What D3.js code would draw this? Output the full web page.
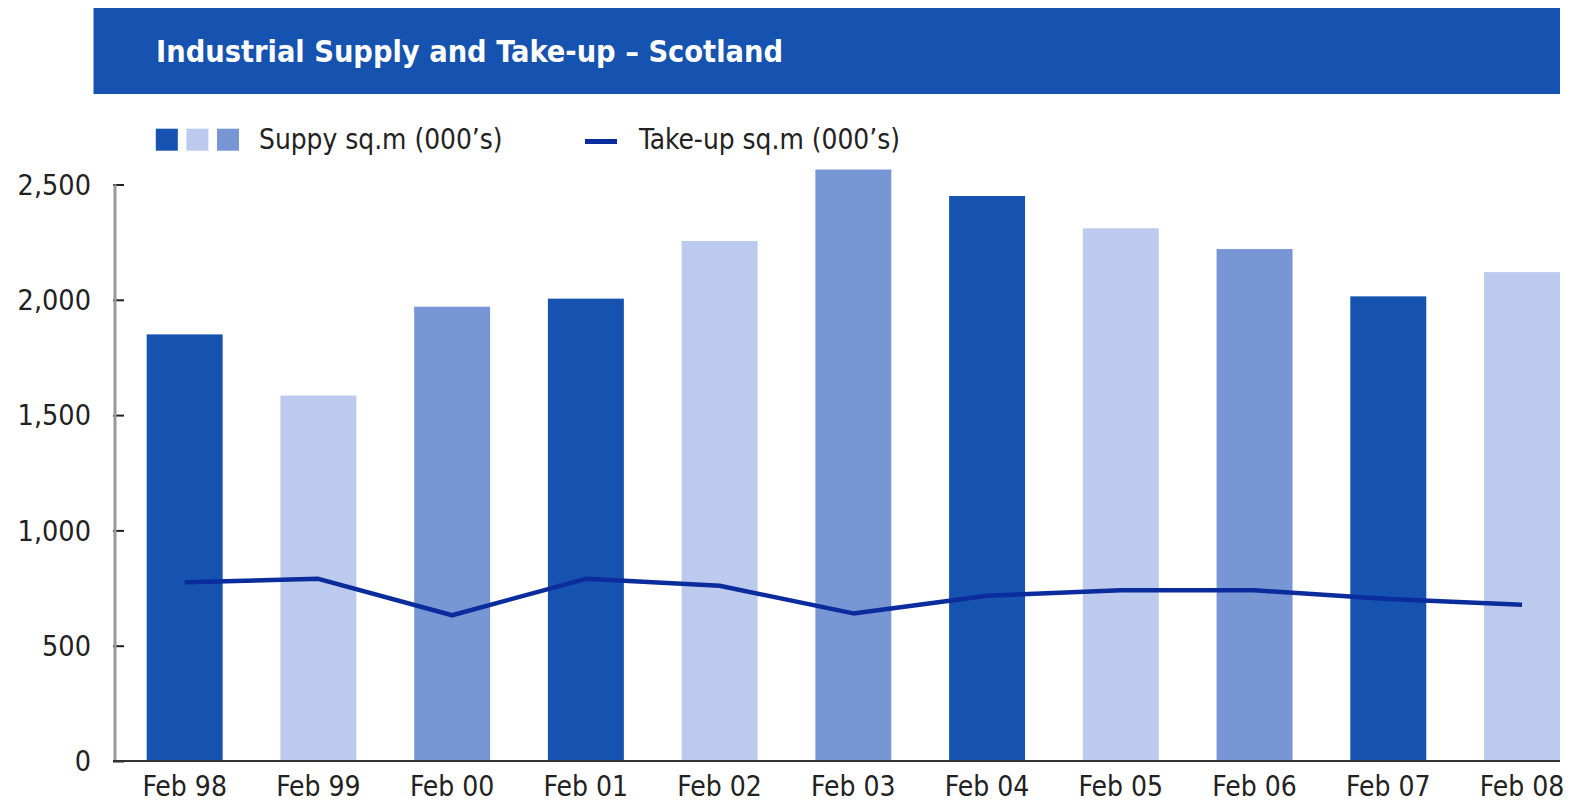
<!doctype html>
<meta charset="utf-8">
<title>Industrial Supply and Take-up - Scotland</title>
<script src="https://cdn.jsdelivr.net/npm/d3@7"></script>
<style>
  body { margin: 0; background: #fff; }
  text { font-family: "DejaVu Sans Condensed", "DejaVu Sans", sans-serif; fill: #222; }
</style>
<body>
<svg id="chart" width="1576" height="803"></svg>
<script>

// data
var periods = ["Feb 98", "Feb 99", "Feb 00", "Feb 01", "Feb 02", "Feb 03",
               "Feb 04", "Feb 05", "Feb 06", "Feb 07", "Feb 08"];
var supply = [1850, 1585, 1970, 2005, 2255, 2565, 2450, 2310, 2220, 2015, 2120];
var takeUp = [775, 790, 632, 790, 760, 640, 717, 740, 740, 702, 678];
var yTicks = [0, 500, 1000, 1500, 2000, 2500];
var barColours = ["#1652b0", "#bccaed", "#7896d4"];

var svg = d3.select("#chart");

// title banner
svg.append("rect")
  .attr("x", 93.5).attr("y", 8).attr("width", 1466.5).attr("height", 86)
  .attr("fill", "#1652b0");
svg.append("text")
  .attr("x", 156).attr("y", 62)
  .style("font-size", "30.4px").style("font-weight", "bold").style("fill", "#fff")
  .text("Industrial Supply and Take-up \u2013 Scotland");

// scales
var x = d3.scaleBand()
  .domain(periods)
  .range([117.8, 1588.9])
  .paddingInner(0.432)
  .paddingOuter(0.216);

var y = d3.scaleLinear()
  .domain([0, 2500])
  .range([761, 184.5]);

// bars
svg.append("g").selectAll("rect")
  .data(supply)
  .join("rect")
    .attr("x", function(d, i) { return x(periods[i]); })
    .attr("y", function(d) { return y(d); })
    .attr("width", x.bandwidth())
    .attr("height", function(d) { return y(0) - y(d); })
    .attr("fill", function(d, i) { return barColours[i % 3]; });

// take-up line
var line = d3.line()
  .x(function(d, i) { return x(periods[i]) + x.bandwidth() / 2; })
  .y(function(d) { return y(d); });

svg.append("path")
  .datum(takeUp)
  .attr("d", line)
  .attr("fill", "none")
  .attr("stroke", "#0a2c9c")
  .attr("stroke-width", 4.5)
  .attr("stroke-linejoin", "round");

// y axis
var yAxis = d3.axisRight(y)
  .tickValues(yTicks)
  .tickSize(11)
  .tickFormat("");

var yg = svg.append("g").attr("transform", "translate(113,0)").call(yAxis);
yg.select(".domain").remove();
yg.selectAll(".tick line").attr("stroke", "#222").attr("stroke-width", 2);

svg.append("line")
  .attr("x1", 115).attr("x2", 115)
  .attr("y1", y(2500)).attr("y2", y(0))
  .attr("stroke", "#999").attr("stroke-width", 3);

svg.append("g").selectAll("text")
  .data(yTicks)
  .join("text")
    .attr("x", 91)
    .attr("y", function(d) { return y(d); })
    .attr("dy", "0.36em")
    .attr("text-anchor", "end")
    .style("font-size", "28.5px")
    .text(d3.format(","));

// x axis
svg.append("line")
  .attr("x1", 113).attr("x2", 1560)
  .attr("y1", y(0)).attr("y2", y(0))
  .attr("stroke", "#333").attr("stroke-width", 2);

svg.append("g").selectAll("text")
  .data(periods)
  .join("text")
    .attr("x", function(d) { return x(d) + x.bandwidth() / 2; })
    .attr("y", 796)
    .attr("text-anchor", "middle")
    .style("font-size", "28px")
    .text(function(d) { return d; });

// legend
var legend = svg.append("g");
legend.selectAll("rect")
  .data(barColours)
  .join("rect")
    .attr("x", function(d, i) { return 155.8 + i * 30.6; })
    .attr("y", 128.7)
    .attr("width", 22).attr("height", 22)
    .attr("fill", function(d) { return d; });
legend.append("text")
  .attr("x", 259).attr("y", 149)
  .style("font-size", "27.8px")
  .text("Suppy sq.m (000\u2019s)");
legend.append("line")
  .attr("x1", 585).attr("x2", 617)
  .attr("y1", 141.5).attr("y2", 141.5)
  .attr("stroke", "#0a2c9c").attr("stroke-width", 5);
legend.append("text")
  .attr("x", 639).attr("y", 149)
  .style("font-size", "27.8px")
  .text("Take-up sq.m (000\u2019s)");

</script>
</body>
